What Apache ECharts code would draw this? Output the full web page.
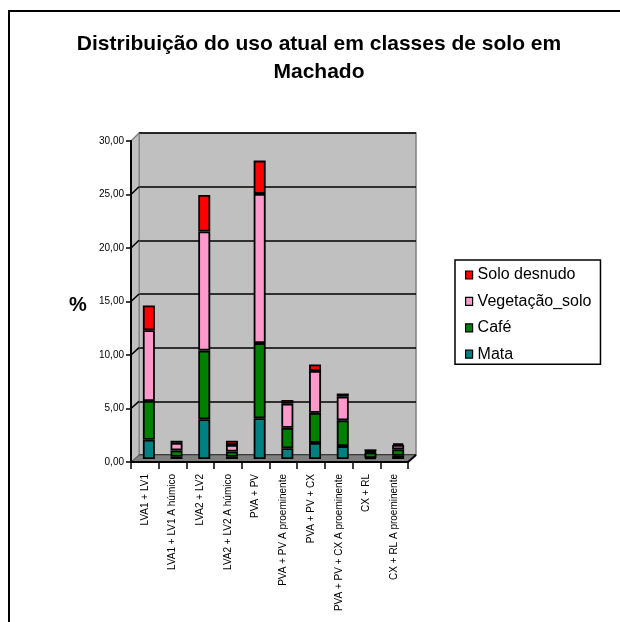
<!DOCTYPE html>
<html><head><meta charset="utf-8">
<script src="https://cdn.jsdelivr.net/npm/echarts@6/dist/echarts.min.js"></script>
<style>html,body{margin:0;padding:0;background:#fff}#c{width:620px;height:622px}</style>
</head><body><div id="c"></div>
<script>
const categories = ["LVA1 + LV1", "LVA1 + LV1 A húmico", "LVA2 + LV2", "LVA2 + LV2 A húmico", "PVA + PV",
  "PVA + PV A proeminente", "PVA + PV + CX", "PVA + PV + CX A proeminente", "CX + RL", "CX + RL A proeminente"];
const mata      = [1.8, 0.2, 3.7, 0.2, 3.8, 1.0, 1.5, 1.2, 0.1, 0.3];
const cafe      = [3.6, 0.6, 6.4, 0.5, 7.0, 1.9, 2.8, 2.4, 0.5, 0.6];
const vegetacao = [6.6, 0.7, 11.1, 0.6, 13.9, 2.25, 3.9, 2.2, 0.1, 0.4];
const solo      = [2.3, 0.2, 3.4, 0.4, 3.1, 0.35, 0.6, 0.3, 0.2, 0.15];
const seriesNames = ["Mata", "Café", "Vegetação_solo", "Solo desnudo"];
const seriesColors = ["#008080", "#008000", "#FF99CC", "#FF0000"];
const yTicks = [0, 5, 10, 15, 20, 25, 30];
const titleLines = ["Distribuição do uso atual em classes de solo em", "Machado"];

const FONT = "'Liberation Sans', Arial, sans-serif";
const chart = echarts.init(document.getElementById('c'), null, {renderer: 'canvas'});
const yMin = yTicks[0], yMax = yTicks[yTicks.length - 1], yInt = yTicks[1] - yTicks[0];
const fmt = v => v.toFixed(2).replace('.', ',');
const values = [mata, cafe, vegetacao, solo];

const option = {
  animation: false,
  backgroundColor: '#fff',
  grid: [
    {left: 131, top: 141, width: 277, height: 321},
    {left: 139, top: 133, width: 277, height: 322, show: true, backgroundColor: '#C0C0C0', borderColor: '#808080', borderWidth: 1.5},
    {left: 135, top: 137, width: 277, height: 322}
  ],
  xAxis: [
    {type: 'category', gridIndex: 0, data: categories, z: 5,
     axisLine: {lineStyle: {color: '#000', width: 2}},
     axisTick: {show: true, length: 7, lineStyle: {color: '#000', width: 1.5}},
     axisLabel: {rotate: 90, interval: 0, fontSize: 10, margin: 12, color: '#000', fontFamily: FONT}},
    {type: 'category', gridIndex: 1, data: categories, show: false},
    {type: 'category', gridIndex: 2, data: categories, show: false}
  ],
  yAxis: [
    {type: 'value', gridIndex: 0, min: yMin, max: yMax, interval: yInt, z: 5,
     axisLine: {show: true, lineStyle: {color: '#000', width: 2}},
     axisTick: {show: true, length: 5, lineStyle: {color: '#000', width: 1.5}},
     axisLabel: {fontSize: 10, margin: 7, color: '#000', fontFamily: FONT, formatter: fmt},
     splitLine: {show: false}},
    {type: 'value', gridIndex: 1, min: yMin, max: yMax, interval: yInt,
     axisLine: {show: false}, axisTick: {show: false}, axisLabel: {show: false},
     splitLine: {show: true, lineStyle: {color: '#000', width: 1.5}}},
    {type: 'value', gridIndex: 2, min: yMin, max: yMax, interval: yInt, show: false, splitLine: {show: false}}
  ],
  legend: {
    orient: 'vertical', left: 455, top: 260,
    data: seriesNames.slice().reverse(),
    icon: 'rect', itemWidth: 7, itemHeight: 8, itemGap: 10.4,
    padding: [7, 9, 2, 10],
    borderColor: '#000', borderWidth: 1.5, backgroundColor: '#fff',
    textStyle: {fontSize: 16, lineHeight: 16, color: '#000', fontFamily: FONT},
    itemStyle: {borderColor: '#000', borderWidth: 1.2}
  },
  series: seriesNames.map((n, i) => ({
    name: n, type: 'bar', stack: 'total', xAxisIndex: 2, yAxisIndex: 2,
    data: values[i], barWidth: 12, z: 4,
    itemStyle: {color: seriesColors[i], borderColor: '#000', borderWidth: 1.8}
  })),
  graphic: [
    {type: 'rect', shape: {x: 9, y: 11, width: 700, height: 700}, style: {fill: 'none', stroke: '#000', lineWidth: 2}, z: 10},
    {type: 'text', x: 319, y: 44.5, style: {text: titleLines[0], font: "bold 21px " + FONT, fill: '#000', align: 'center', verticalAlign: 'middle'}, z: 10},
    {type: 'text', x: 319, y: 72, style: {text: titleLines[1], font: "bold 21px " + FONT, fill: '#000', align: 'center', verticalAlign: 'middle'}, z: 10},
    {type: 'text', x: 78, y: 305, style: {text: '%', font: "bold 20px " + FONT, fill: '#000', align: 'center', verticalAlign: 'middle'}, z: 10}
  ]
};
chart.setOption(option);

// 3D walls: computed from the axes
const yF = v => chart.convertToPixel({yAxisIndex: 0}, v);
const yB = v => chart.convertToPixel({yAxisIndex: 1}, v);
const xF0 = 131, xF1 = 131 + 277, xB0 = 139, xB1 = 139 + 277;
const extra = [];
extra.push({type: 'polygon', shape: {points: [[xF0, yF(yMin)], [xF0, yF(yMax)], [xB0, yB(yMax)], [xB0, yB(yMin)]]},
  style: {fill: '#C0C0C0', stroke: '#808080', lineWidth: 1}, z: 1});
extra.push({type: 'polygon', shape: {points: [[xF0, yF(yMin)], [xB0, yB(yMin)], [xB1, yB(yMin)], [xF1, yF(yMin)]]},
  style: {fill: '#808080', stroke: '#555', lineWidth: 1}, z: 1});
yTicks.forEach(v => {
  if (v === yMin) return;
  extra.push({type: 'line', shape: {x1: xF0, y1: yF(v), x2: xB0, y2: yB(v)},
    style: {stroke: v === yMax ? '#808080' : '#000', lineWidth: 1.5}, z: 1});
});
extra.push({type: 'line', shape: {x1: xF1, y1: yF(yMin), x2: xB1, y2: yB(yMin)}, style: {stroke: '#000', lineWidth: 2}, z: 6});
chart.setOption({graphic: option.graphic.concat(extra)});
</script>
</body></html>
